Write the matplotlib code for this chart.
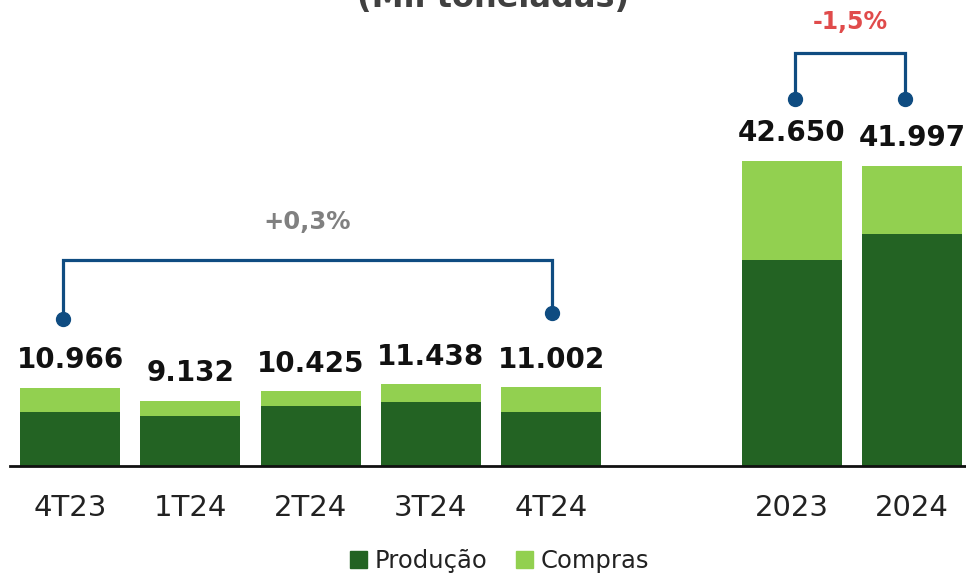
import matplotlib
matplotlib.use("Agg")
import matplotlib.pyplot as plt
from matplotlib.patches import Patch

# data (mil toneladas)
categories = ["4T23", "1T24", "2T24", "3T24", "4T24", "2023", "2024"]
positions = [0, 1, 2, 3, 4, 6, 7]
producao = [7591, 6990, 8388, 8989, 7591, 28841, 32392]
compras = [3375, 2142, 2037, 2449, 3411, 13809, 9605]
totais = [10966, 9132, 10425, 11438, 11002, 42650, 41997]
total_labels = ["10.966", "9.132", "10.425", "11.438", "11.002", "42.650", "41.997"]

DARK = "#236323"
LIGHT = "#92D050"
BLUE = "#0F4C81"

plt.rcParams["font.family"] = ["DejaVu Sans"]

fig = plt.figure(figsize=(9.66, 5.73), dpi=100)
ax = fig.add_axes([10 / 966, 107 / 573, 956 / 966, 466 / 573])

ax.bar(positions, producao, width=0.83, color=DARK)
ax.bar(positions, compras, width=0.83, bottom=producao, color=LIGHT)

for x, t, lab in zip(positions, totais, total_labels):
    ax.annotate(lab, (x, t), xytext=(0, 14), textcoords="offset points",
                ha="center", va="baseline", fontsize=20, fontweight="bold", color="#111111")

ax.set_xlim(-0.5, 7.45)
ax.set_ylim(0, 65150)
ax.set_xticks(positions)
ax.set_xticklabels(categories, fontsize=21, color="#222222")
ax.tick_params(axis="x", length=0, pad=20)
ax.set_yticks([])
for s in ["top", "right", "left"]:
    ax.spines[s].set_visible(False)
ax.spines["bottom"].set_linewidth(2)
ax.spines["bottom"].set_color("#111111")

# bracket quarters
lx0, lx1 = -0.06, 4.01
ax.plot([lx0, lx0, lx1, lx1], [20550, 28800, 28800, 21390], color=BLUE, lw=2.3,
        solid_joinstyle="miter")
ax.plot([lx0, lx1], [20550, 21390], "o", color=BLUE, ms=10, ls="none")
ax.text((lx0 + lx1) / 2, 34110, "+0,3%", ha="center", va="center", fontsize=17.5,
        fontweight="bold", color="#808080")

# bracket years
rx0, rx1 = 6.03, 6.94
ax.plot([rx0, rx0, rx1, rx1], [51300, 57740, 57740, 51300], color=BLUE, lw=2.3,
        solid_joinstyle="miter")
ax.plot([rx0, rx1], [51300, 51300], "o", color=BLUE, ms=10, ls="none")
ax.text((rx0 + rx1) / 2, 62070, "-1,5%", ha="center", va="center", fontsize=17,
        fontweight="bold", color="#E04B4B")

fig.text(0.51, 1 - 7 / 573, "(Mil toneladas)", ha="center", va="baseline",
         fontsize=23, fontweight="bold", color="#404040")

handles = [Patch(color=DARK, label="Produção"), Patch(color=LIGHT, label="Compras")]
fig.legend(handles=handles, loc="center", bbox_to_anchor=(0.517, 12 / 573), ncol=2,
           frameon=False, fontsize=17.5, handlelength=0.7, handleheight=0.7,
           handletextpad=0.3, columnspacing=1.2, labelcolor="#222222")

fig.savefig("out.png", dpi=100)
